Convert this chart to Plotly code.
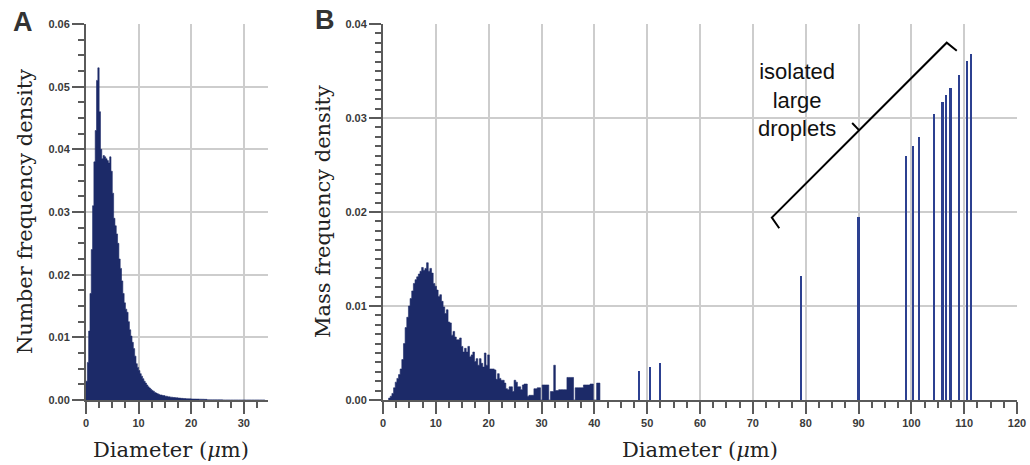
import numpy as np
import plotly.graph_objects as go

# ---------------- Panel A: number frequency density ----------------
a_start = 0.0
a_width_fine = 0.25            # bins 0 - 14 um
a_density_fine = [
    0.003, 0.006, 0.011, 0.017, 0.024, 0.031, 0.038, 0.043,
    0.051, 0.053, 0.046, 0.040, 0.0385, 0.039, 0.0388, 0.0385,
    0.0382, 0.0378, 0.0388, 0.0365, 0.033, 0.029, 0.0278, 0.0265,
    0.025, 0.0225, 0.021, 0.019, 0.017, 0.0155, 0.0145, 0.014,
    0.0125, 0.0112, 0.0102, 0.0092, 0.0082, 0.007, 0.0058, 0.0052,
    0.0047, 0.0042, 0.0038, 0.0034, 0.003, 0.0027, 0.0024, 0.0021,
    0.0019, 0.0017, 0.0015, 0.0014, 0.0012, 0.0011, 0.001, 0.0009,
]
a_width_coarse = 0.5           # bins 14 - 34 um
a_density_coarse = [
    0.0008, 0.0007, 0.0006, 0.0005, 0.00045, 0.0004, 0.00035, 0.0003,
    0.00026, 0.00023, 0.0002, 0.00018, 0.00016, 0.00015, 0.00014, 0.00013,
    0.00012, 0.0001, 0.00003, 0.00002, 0.00002, 0.00002, 0.00002, 0.00002,
    0.00001, 0.00001, 0.00001, 0.00001, 0.00001, 0.00001, 0.00001, 0.00001,
    0.00001, 0.00001, 0.00001, 0.00001, 0.00001, 0.00001, 0.00001, 0.00001,
]

# ---------------- Panel B: mass frequency density ----------------
b_start = 1.0625
b_width = 0.3125
b_mass_density = [
    0.0002, 0.0004, 0.0007, 0.0013, 0.0019, 0.0023, 0.0027, 0.0033,
    0.0043, 0.0060, 0.0077, 0.0088, 0.0100, 0.0108, 0.0116, 0.0124,
    0.0128, 0.0131, 0.0134, 0.0137, 0.0141, 0.0138, 0.0140, 0.0146,
    0.0137, 0.0140, 0.0135, 0.0124, 0.0121, 0.0117, 0.0110, 0.0112,
    0.0105, 0.0099, 0.0092, 0.0096, 0.0083, 0.0082, 0.0069, 0.0073,
    0.0067, 0.0064, 0.0064, 0.0066, 0.0057, 0.0051, 0.0055, 0.0051,
    0.0057, 0.0046, 0.0048, 0.0051, 0.0041, 0.0044, 0.0037, 0.0044,
    0.0039, 0.0035, 0.0050, 0.0037, 0.0048,
    0.0033, 0.0033, 0.0033, 0.0032, 0.0022, 0.0028, 0.0023, 0.0021,
    0.0021, 0.0018, 0.0012, 0.0011, 0.0014, 0.0014, 0.0009, 0.0021,
    0.0019, 0.0014, 0.0014, 0.0011, 0.0016, 0.0017, 0.0017, 0.0004,
    0.0005, 0.0005, 0.0005, 0.0012, 0.0012, 0.0013, 0.0013, 0.0,
    0.0016, 0.0016, 0.0016, 0.0016, 0.0, 0.0009, 0.0009, 0.0037,
    0.0010, 0.0010, 0.0011, 0.0011, 0.0011, 0.0011, 0.0011, 0.0024,
    0.0024, 0.0024, 0.0024, 0.0, 0.0013, 0.0013, 0.0013, 0.0013,
    0.0013, 0.0016, 0.0016, 0.0016, 0.0016, 0.0017, 0.0017, 0.0,
    0.0, 0.0018, 0.0018,
]
large_diam = [48.4, 50.5, 52.5, 79.1, 90.0, 99.0, 100.3, 101.5,
              104.3, 105.9, 106.6, 107.4, 109.0, 110.5, 111.3]
large_mass = [0.0031, 0.0035, 0.0039, 0.0132, 0.0195, 0.0260, 0.0270, 0.0280,
              0.0304, 0.0317, 0.0324, 0.0332, 0.0346, 0.0361, 0.0368]

# bracket around isolated large droplets (diameter, density)
bracket_x = [75.0, 73.6, 106.7, 108.6]
bracket_y = [0.01827, 0.01940, 0.03801, 0.03716]
bracket_mid = [(90.1, 0.02871), (88.8, 0.02947)]

NAVY = "#1c2a68"
THIN = "#2c4090"
GRID = "#cdcdcd"
AXIS = "#5a5a5a"
TICKFONT = dict(family="Liberation Sans, Arial, sans-serif", size=11,
                color="#3a3a3a", weight="bold")
TITLEFONT = dict(family="DejaVu Serif, serif", size=21, color="#222")


def step_outline(edges, values):
    """x/y for a filled step histogram (hv steps)."""
    xs = list(edges)
    ys = list(values) + [values[-1]]
    return xs, ys


# bin edges
a_edges_fine = a_start + np.arange(len(a_density_fine) + 1) * a_width_fine
a_edges_coarse = a_edges_fine[-1] + np.arange(1, len(a_density_coarse) + 1) * a_width_coarse
a_edges = np.concatenate([a_edges_fine, a_edges_coarse])
a_vals = a_density_fine + a_density_coarse
ax_, ay_ = step_outline(a_edges, a_vals)
ax_ = [a_edges[0]] + ax_ + [a_edges[-1]]
ay_ = [0] + ay_ + [0]

b_edges = b_start + np.arange(len(b_mass_density) + 1) * b_width
bx_, by_ = step_outline(b_edges, b_mass_density)
bx_ = [b_edges[0]] + bx_ + [b_edges[-1]]
by_ = [0] + by_ + [0]

fig = go.Figure()
fig.add_trace(go.Scatter(x=ax_, y=ay_, mode="lines", line=dict(color=NAVY, width=0.6, shape="hv"),
                         fill="tozeroy", fillcolor=NAVY, xaxis="x", yaxis="y", showlegend=False))
fig.add_trace(go.Scatter(x=bx_, y=by_, mode="lines", line=dict(color=NAVY, width=0.6, shape="hv"),
                         fill="tozeroy", fillcolor=NAVY, xaxis="x2", yaxis="y2", showlegend=False))
fig.add_trace(go.Bar(x=large_diam, y=large_mass, width=0.42,
                     marker=dict(color=THIN, line=dict(width=0)),
                     xaxis="x2", yaxis="y2", showlegend=False))

W, H = 1030, 465
def px_x(p):
    return p / W
def px_y(p):
    return 1 - p / H

common_x = dict(showline=True, linecolor=AXIS, linewidth=2, ticks="outside",
                ticklen=12, tickwidth=1.5, tickcolor=AXIS, showgrid=True,
                gridcolor=GRID, gridwidth=1.5, zeroline=False, tickfont=TICKFONT,
                dtick=10, tick0=0, automargin=False, layer="above traces")
common_y = dict(showline=True, linecolor=AXIS, linewidth=2, ticks="outside",
                ticklen=12, tickwidth=1.5, tickcolor=AXIS, showgrid=True,
                gridcolor=GRID, gridwidth=1.5, zeroline=False, tickfont=TICKFONT,
                tickformat=".2f", dtick=0.01, tick0=0, automargin=False,
                layer="above traces")

fig.update_layout(
    template="none",
    width=W, height=H, margin=dict(l=0, r=0, t=0, b=0, pad=0),
    paper_bgcolor="white", plot_bgcolor="white",
    bargap=0, barmode="overlay",
    xaxis=dict(**common_x, domain=[px_x(86), px_x(268)], range=[0, 34.6],
               anchor="y",
               minor=dict(dtick=2.5, tick0=0, ticks="outside", ticklen=6,
                          tickwidth=1.5, tickcolor=AXIS, showgrid=False)),
    yaxis=dict(**common_y, domain=[px_y(400), px_y(24)], range=[0, 0.06],
               anchor="x",
               minor=dict(dtick=0.0025, tick0=0, ticks="outside", ticklen=6,
                          tickwidth=1.5, tickcolor=AXIS, showgrid=False)),
    xaxis2=dict(**common_x, domain=[px_x(383), px_x(1017)], range=[0, 120],
                anchor="y2",
                minor=dict(dtick=2.5, tick0=0, ticks="outside", ticklen=6,
                           tickwidth=1.5, tickcolor=AXIS, showgrid=False)),
    yaxis2=dict(**common_y, domain=[px_y(400), px_y(24)], range=[0, 0.04],
                anchor="x2",
                minor=dict(dtick=0.001, tick0=0, ticks="outside", ticklen=6,
                           tickwidth=1.5, tickcolor=AXIS, showgrid=False)),
)

ann = []
ann.append(dict(text="Number frequency density", x=px_x(25), y=px_y(212), xref="paper", yref="paper",
                textangle=-90, showarrow=False, font=TITLEFONT, xanchor="center", yanchor="middle"))
ann.append(dict(text="Mass frequency density", x=px_x(323), y=px_y(212), xref="paper", yref="paper",
                textangle=-90, showarrow=False, font=TITLEFONT, xanchor="center", yanchor="middle"))
ann.append(dict(text="Diameter (<i>μ</i>m)", x=px_x(171), y=px_y(450), xref="paper", yref="paper",
                showarrow=False, font=TITLEFONT, xanchor="center", yanchor="middle"))
ann.append(dict(text="Diameter (<i>μ</i>m)", x=px_x(700), y=px_y(450), xref="paper", yref="paper",
                showarrow=False, font=TITLEFONT, xanchor="center", yanchor="middle"))
ann.append(dict(text="<b>A</b>", x=px_x(23), y=px_y(22), xref="paper", yref="paper", showarrow=False,
                font=dict(family="Liberation Sans, Arial, sans-serif", size=27, color="#333"),
                xanchor="center", yanchor="middle"))
ann.append(dict(text="<b>B</b>", x=px_x(325), y=px_y(20), xref="paper", yref="paper", showarrow=False,
                font=dict(family="Liberation Sans, Arial, sans-serif", size=27, color="#333"),
                xanchor="center", yanchor="middle"))
ann.append(dict(text="isolated<br>large<br>droplets", x=px_x(797), y=px_y(100), xref="paper", yref="paper",
                showarrow=False, font=dict(family="Liberation Sans, Arial, sans-serif", size=22, color="#111"),
                xanchor="center", yanchor="middle", align="center"))
fig.update_layout(annotations=ann)

path = "M {} {} L {} {} L {} {} L {} {}".format(
    bracket_x[0], bracket_y[0], bracket_x[1], bracket_y[1],
    bracket_x[2], bracket_y[2], bracket_x[3], bracket_y[3])
fig.add_shape(type="path", path=path, xref="x2", yref="y2",
              line=dict(color="black", width=2))
fig.add_shape(type="line", x0=bracket_mid[0][0], y0=bracket_mid[0][1],
              x1=bracket_mid[1][0], y1=bracket_mid[1][1], xref="x2", yref="y2",
              line=dict(color="black", width=2))

fig.write_html("out.html")
